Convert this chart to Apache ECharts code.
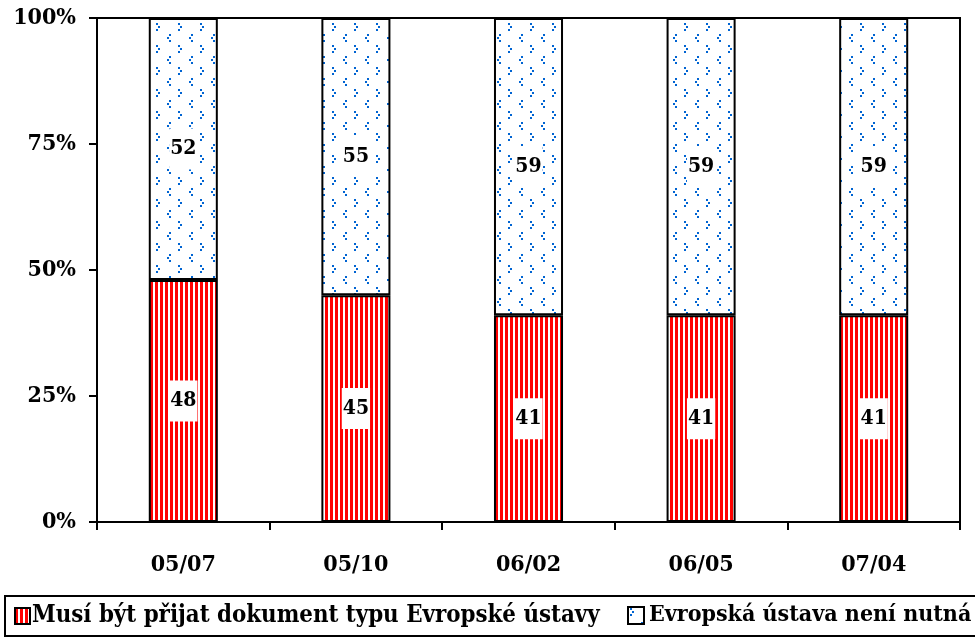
<!DOCTYPE html>
<html><head><meta charset="utf-8">
<script src="https://cdn.jsdelivr.net/npm/echarts@6/dist/echarts.min.js"></script>
<style>html,body{margin:0;padding:0;background:#fff}#c{width:975px;height:638px}</style>
</head><body><div id="c"></div>
<script>
var categories = ['05/07','05/10','06/02','06/05','07/04'];
var seriesMust = [48,45,41,41,41];
var seriesNot = [52,55,59,59,59];
var seriesNames = ['Musí být přijat dokument typu Evropské ústavy','Evropská ústava není nutná'];
var yTicks = [0,25,50,75,100];

function stripePattern(){
  var c=document.createElement('canvas');c.width=5;c.height=4;
  var g=c.getContext('2d');g.fillStyle='#fff';g.fillRect(0,0,5,4);
  g.fillStyle='#ff0000';g.fillRect(0,0,3,4);return c;
}
function dotPattern(){
  var c=document.createElement('canvas');c.width=22;c.height=22;
  var g=c.getContext('2d');g.fillStyle='#fff';g.fillRect(0,0,22,22);
  g.fillStyle='#0064d2';
  [[2,1],[4,4],[2,7],[15,12],[13,15],[15,18]].forEach(function(p){g.fillRect(p[0],p[1],2,2);});
  return c;
}
var font='"DejaVu Serif Condensed","Liberation Serif",serif';
var chart=echarts.init(document.getElementById('c'),null,{renderer:'canvas'});
var lbl={show:true,position:'inside',backgroundColor:'#fff',padding:[10,1,10,1],color:'#000',fontSize:21,fontWeight:'bold',fontFamily:font};
var legText1={fontFamily:font,fontWeight:'bold',fontSize:23.8,color:'#000',padding:[0,0,0,-3]};
var legText2={fontFamily:font,fontWeight:'bold',fontSize:23,color:'#000',padding:[0,0,0,0]};
chart.setOption({
  animation:false,
  grid:{left:97,right:15,top:18,bottom:116,show:true,borderColor:'#000',borderWidth:2,backgroundColor:'transparent'},
  legend:[
    {left:9,top:599,itemWidth:15,itemHeight:16,icon:'rect',textStyle:legText1,data:[seriesNames[0]]},
    {left:622,top:599,itemWidth:16,itemHeight:17,icon:'rect',textStyle:legText2,data:[seriesNames[1]]}
  ],
  graphic:[{type:'rect',shape:{x:5,y:596,width:980,height:40},style:{fill:'none',stroke:'#000',lineWidth:2},z:-1}],
  xAxis:{type:'category',data:categories,
    axisLine:{lineStyle:{color:'#000',width:2}},
    axisTick:{show:true,length:8,lineStyle:{color:'#000',width:2}},
    axisLabel:{margin:32,fontFamily:font,fontWeight:'bold',fontSize:23,color:'#000'}},
  yAxis:{type:'value',min:yTicks[0],max:yTicks[yTicks.length-1],interval:25,
    axisLine:{show:true,lineStyle:{color:'#000',width:2}},
    axisTick:{show:true,length:8,lineStyle:{color:'#000',width:2}},
    splitLine:{show:false},
    axisLabel:{margin:21,formatter:'{value}%',fontFamily:font,fontWeight:'bold',fontSize:23,color:'#000'}},
  series:[
    {name:seriesNames[0],type:'bar',stack:'a',barWidth:'40%',data:seriesMust,
     itemStyle:{color:{image:stripePattern(),repeat:'repeat'},borderColor:'#000',borderWidth:2},label:lbl},
    {name:seriesNames[1],type:'bar',stack:'a',barWidth:'40%',data:seriesNot,
     itemStyle:{color:{image:dotPattern(),repeat:'repeat'},borderColor:'#000',borderWidth:2},label:lbl}
  ]
});
</script></body></html>
